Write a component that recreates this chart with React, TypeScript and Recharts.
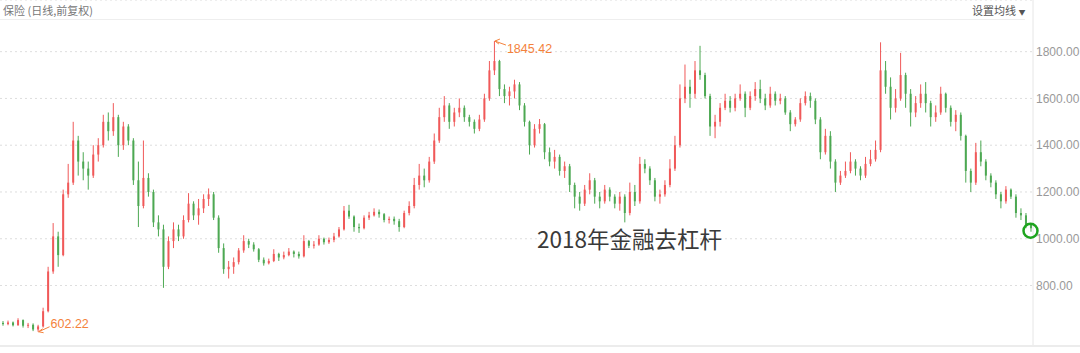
import { Bar, CartesianGrid, ComposedChart, ReferenceDot, XAxis, YAxis } from 'recharts'

// one candle per ~5px of the original daily chart
const opens = [
  640, 635, 642, 630, 652, 628, 632, 612, 625, 690,
  860, 1010, 930, 1190, 1240, 1420, 1330, 1300, 1270, 1360,
  1400, 1500, 1460, 1520, 1400, 1480, 1420, 1250, 1140, 1260,
  1200, 1070, 1040, 880, 990, 1040, 1010, 1080, 1150, 1100,
  1130, 1170, 1190, 1090, 960, 870, 880, 900, 950, 990,
  975, 955, 910, 895, 905, 935, 920, 930, 945, 935,
  925, 990, 970, 975, 1000, 985, 995, 1010, 1040, 1120,
  1095, 1050, 1045, 1090, 1100, 1115, 1105, 1080, 1085, 1075,
  1050, 1110, 1140, 1230, 1270, 1250, 1330, 1420, 1520, 1570,
  1500, 1540, 1560, 1520, 1500, 1470, 1510, 1600, 1720, 1760,
  1640, 1610, 1630, 1660, 1570, 1500, 1400, 1470, 1490, 1370,
  1330, 1350, 1290, 1310, 1230, 1180, 1150, 1210, 1250, 1180,
  1160, 1210, 1180, 1150, 1180, 1110, 1200, 1160, 1320, 1300,
  1250, 1180, 1190, 1230, 1300, 1400, 1600, 1650, 1620, 1720,
  1700, 1610, 1480, 1500, 1560, 1590, 1560, 1600, 1620, 1560,
  1610, 1640, 1600, 1570, 1620, 1590, 1600, 1540, 1490, 1510,
  1580, 1610, 1590, 1510, 1370, 1440, 1330, 1240, 1270, 1290,
  1330, 1300, 1270, 1320, 1340, 1380, 1720, 1650, 1560, 1600,
  1700, 1620, 1540, 1580, 1620, 1580, 1520, 1540, 1620, 1560,
  1500, 1530, 1440, 1290, 1240, 1370, 1330, 1270, 1240, 1190,
  1160, 1210, 1180, 1110, 1100, 1060,
]
const closes = [
  635, 642, 630, 652, 628, 632, 612, 625, 690, 860,
  1010, 930, 1190, 1240, 1420, 1330, 1300, 1270, 1360, 1400,
  1500, 1460, 1520, 1400, 1480, 1420, 1250, 1140, 1260, 1200,
  1070, 1040, 880, 990, 1040, 1010, 1080, 1150, 1100, 1130,
  1170, 1190, 1090, 960, 870, 880, 900, 950, 990, 975,
  955, 910, 895, 905, 935, 920, 930, 945, 935, 925,
  990, 970, 975, 1000, 985, 995, 1010, 1040, 1120, 1095,
  1050, 1045, 1090, 1100, 1115, 1105, 1080, 1085, 1075, 1050,
  1110, 1140, 1230, 1270, 1250, 1330, 1420, 1520, 1570, 1500,
  1540, 1560, 1520, 1500, 1470, 1510, 1600, 1720, 1760, 1640,
  1610, 1630, 1660, 1570, 1500, 1400, 1470, 1490, 1370, 1330,
  1350, 1290, 1310, 1230, 1180, 1150, 1210, 1250, 1180, 1160,
  1210, 1180, 1150, 1180, 1110, 1200, 1160, 1320, 1300, 1250,
  1180, 1190, 1230, 1300, 1400, 1600, 1650, 1620, 1720, 1700,
  1610, 1480, 1500, 1560, 1590, 1560, 1600, 1620, 1560, 1610,
  1640, 1600, 1570, 1620, 1590, 1600, 1540, 1490, 1510, 1580,
  1610, 1590, 1510, 1370, 1440, 1330, 1240, 1270, 1290, 1330,
  1300, 1270, 1320, 1340, 1380, 1720, 1650, 1560, 1600, 1700,
  1620, 1540, 1580, 1620, 1580, 1520, 1540, 1620, 1560, 1500,
  1530, 1440, 1290, 1240, 1370, 1330, 1270, 1240, 1190, 1160,
  1210, 1180, 1110, 1100, 1060, 1045,
]
const highs = [
  648, 650, 646, 660, 655, 640, 638, 632, 705, 880,
  1067, 1030, 1210, 1320, 1500, 1440, 1370, 1330, 1400, 1430,
  1530, 1540, 1580, 1530, 1500, 1490, 1430, 1330, 1420, 1280,
  1210, 1100, 1060, 1010, 1070, 1060, 1100, 1195, 1160, 1170,
  1190, 1215, 1200, 1100, 980, 905, 920, 960, 1015, 1000,
  985, 960, 920, 915, 955, 940, 945, 960, 950, 945,
  1015, 995, 990, 1015, 1005, 1005, 1025, 1050, 1140, 1145,
  1100, 1065, 1100, 1115, 1130, 1125, 1110, 1095, 1095, 1085,
  1120, 1160, 1260, 1320, 1300, 1350, 1450, 1560, 1610, 1580,
  1560, 1600, 1570, 1530, 1510, 1530, 1620, 1760, 1845.42, 1765,
  1660, 1650, 1680, 1670, 1580, 1505, 1490, 1512, 1495, 1390,
  1380, 1360, 1330, 1320, 1240, 1200, 1230, 1280, 1260, 1200,
  1230, 1220, 1190, 1200, 1190, 1240, 1230, 1350, 1340, 1310,
  1260, 1210, 1250, 1340, 1440, 1660, 1745, 1680, 1760, 1825,
  1710, 1620, 1530, 1580, 1620, 1610, 1620, 1660, 1630, 1630,
  1670, 1680, 1620, 1650, 1630, 1620, 1610, 1550, 1520, 1600,
  1630, 1625, 1600, 1520, 1470, 1460, 1340, 1290, 1330, 1370,
  1340, 1310, 1350, 1380, 1420, 1840, 1760, 1690, 1640, 1795,
  1710, 1640, 1610, 1660, 1670, 1590, 1570, 1650, 1625, 1570,
  1550, 1540, 1445, 1300, 1410, 1420, 1340, 1280, 1250, 1200,
  1225, 1215, 1190, 1130, 1110, 1065,
]
const lows = [
  628, 630, 625, 628, 620, 618, 605, 602.22, 620, 685,
  850, 880, 925, 1175, 1230, 1270, 1250, 1210, 1260, 1330,
  1390, 1420, 1440, 1350, 1380, 1400, 1230, 1050, 1130, 1180,
  1050, 1010, 790, 870, 960, 990, 1000, 1070, 1080, 1060,
  1110, 1140, 1080, 940, 850, 830, 850, 890, 940, 960,
  945, 900, 885, 890, 900, 905, 912, 925, 920, 915,
  920, 960, 958, 970, 975, 978, 985, 1005, 1035, 1085,
  1030, 1025, 1040, 1080, 1095, 1090, 1070, 1065, 1060, 1030,
  1045, 1100, 1130, 1210, 1220, 1240, 1320, 1410, 1500, 1470,
  1480, 1520, 1500, 1480, 1450, 1460, 1500, 1590, 1700, 1610,
  1580, 1570, 1600, 1550, 1480, 1360, 1390, 1450, 1340, 1310,
  1300, 1270, 1260, 1200, 1130, 1120, 1140, 1190, 1150, 1130,
  1150, 1160, 1130, 1120, 1070, 1100, 1140, 1150, 1280, 1230,
  1160, 1150, 1180, 1220, 1290, 1390, 1580, 1560, 1600, 1680,
  1600, 1440, 1430, 1480, 1550, 1540, 1545, 1590, 1520, 1550,
  1590, 1580, 1550, 1560, 1570, 1575, 1530, 1460, 1480, 1500,
  1570, 1560, 1490, 1340, 1360, 1300, 1200, 1230, 1260, 1280,
  1270, 1250, 1260, 1310, 1330, 1370, 1620, 1510, 1540, 1590,
  1560, 1480, 1520, 1560, 1540, 1480, 1500, 1530, 1540, 1480,
  1460, 1420, 1240, 1200, 1230, 1310, 1250, 1220, 1170, 1130,
  1150, 1170, 1090, 1080, 1045, 1030,
]
const yTicks = [800, 1000, 1200, 1400, 1600, 1800]
const lastMark = 1034

const data = opens.map((open, i) => ({
  idx: i,
  open,
  close: closes[i],
  high: highs[i],
  low: lows[i],
  range: [lows[i], highs[i]],
}))

const maxIdx = highs.indexOf(Math.max(...highs))
const minIdx = lows.indexOf(Math.min(...lows))

const UP = '#ee3d3d'
const DOWN = '#2e9a35'
const ORANGE = '#f4823c'
const FONT = '"Liberation Sans", Arial, "Noto Sans CJK SC", sans-serif'
const CJK = '"Noto Sans CJK SC", "Liberation Sans", sans-serif'

function Candle(props: any) {
  const { x, y, width, height, payload } = props
  if (!payload) return null
  const { open, close, high, low } = payload
  const top = Math.min(y, y + height)
  const h = Math.abs(height)
  const yOf = (v: number) => top + ((high - v) / (high - low)) * h
  const color = close >= open ? UP : DOWN
  const cx = x + width / 2
  const bodyTop = yOf(Math.max(open, close))
  const bodyH = Math.max(1, Math.abs(yOf(open) - yOf(close)))
  return (
    <g opacity={0.85}>
      <line x1={cx} x2={cx} y1={top} y2={top + h} stroke={color} strokeWidth={1} />
      <rect x={x} y={bodyTop} width={width} height={bodyH} fill={color} />
    </g>
  )
}

function HighMark({ cx, cy }: any) {
  return (
    <g>
      <line x1={cx + 1} y1={cy} x2={cx + 12} y2={cy + 4} stroke={ORANGE} strokeWidth={1} />
      <polyline
        points={`${cx + 6},${cy - 2} ${cx + 1},${cy} ${cx + 5},${cy + 3}`}
        fill="none"
        stroke={ORANGE}
        strokeWidth={1}
      />
      <text x={cx + 13} y={cy + 12} fill={ORANGE} fontSize={12.5} fontFamily={FONT}>
        {highs[maxIdx].toFixed(2)}
      </text>
    </g>
  )
}

function LowMark({ cx, cy }: any) {
  return (
    <g>
      <line x1={cx + 1} y1={cy} x2={cx + 12} y2={cy - 5} stroke={ORANGE} strokeWidth={1} />
      <polyline
        points={`${cx + 5},${cy - 3} ${cx + 1},${cy} ${cx + 6},${cy + 1}`}
        fill="none"
        stroke={ORANGE}
        strokeWidth={1}
      />
      <text x={cx + 13} y={cy - 4} fill={ORANGE} fontSize={12.5} fontFamily={FONT}>
        {lows[minIdx].toFixed(2)}
      </text>
    </g>
  )
}

export default function App() {
  return (
    <div style={{ position: 'absolute', left: 0, top: 0, width: 1080, height: 353, overflow: 'hidden', background: '#fff' }}>
      <ComposedChart width={1080} height={347} data={data} margin={{ top: 0, right: 0, bottom: 0, left: 0 }} barSize={2}>
        <CartesianGrid vertical={false} stroke="#dedede" strokeDasharray="2 3" />
        <XAxis dataKey="idx" type="category" hide />
        <YAxis
          orientation="right"
          width={47}
          domain={[537, 2021]}
          allowDataOverflow
          ticks={yTicks}
          tickFormatter={(v: number) => v.toFixed(2)}
          axisLine={{ stroke: '#e6e6e6' }}
          tickLine={false}
          tickSize={0}
          tickMargin={3}
          tick={{ fill: '#999', fontSize: 12, fontFamily: FONT, textAnchor: 'start' }}
        />
        <Bar dataKey="range" shape={<Candle />} isAnimationActive={false} />
        <ReferenceDot x={maxIdx} y={highs[maxIdx]} r={0} shape={<HighMark />} />
        <ReferenceDot x={minIdx} y={lows[minIdx]} r={0} shape={<LowMark />} />
        <ReferenceDot x={data.length - 1} y={lastMark} r={7} fill="none" stroke="#1ea41e" strokeWidth={2.5} />
      </ComposedChart>
      <div style={{ position: 'absolute', left: 0, top: 19, width: 1025, height: 1, background: '#eeeeee' }} />
      <div style={{ position: 'absolute', left: 0, top: 345, width: 1080, height: 2, background: '#ececec' }} />
      <div style={{ position: 'absolute', left: 3, top: 2, fontSize: 11, color: '#777', fontFamily: CJK, lineHeight: '16px' }}>
        保险 (日线,前复权)
      </div>
      <div style={{ position: 'absolute', left: 972, top: 2, fontSize: 11, color: '#555', fontFamily: CJK, lineHeight: '16px' }}>
        设置均线 <span style={{ fontSize: 7, verticalAlign: 'middle' }}>▼</span>
      </div>
      <div style={{ position: 'absolute', left: 537, top: 224, fontSize: 22.5, color: '#3a3a3a', fontFamily: CJK, lineHeight: '28px' }}>
        2018年金融去杠杆
      </div>
    </div>
  )
}
